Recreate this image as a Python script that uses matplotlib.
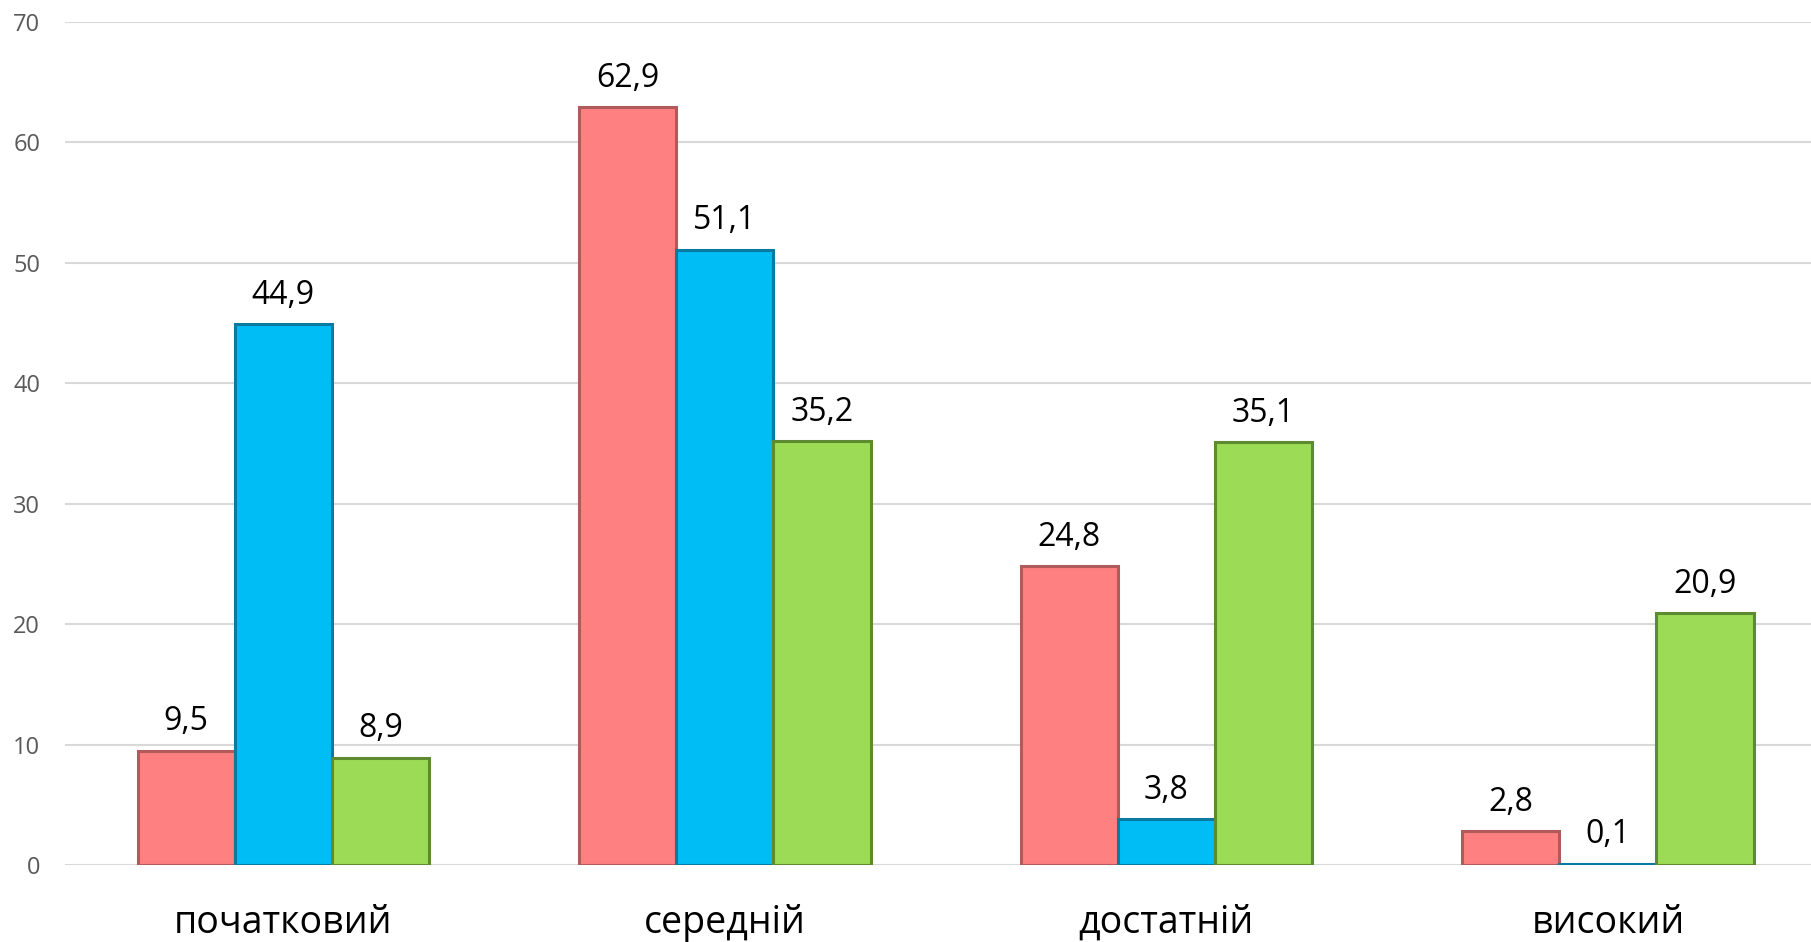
import numpy as np
import matplotlib
matplotlib.use("Agg")
import matplotlib.pyplot as plt

plt.rcParams['font.family'] = ['Open Sans', 'DejaVu Sans']

categories = ['початковий', 'середній', 'достатній', 'високий']
series_red = [9.5, 62.9, 24.8, 2.8]
series_blue = [44.9, 51.1, 3.8, 0.1]
series_green = [8.9, 35.2, 35.1, 20.9]
yticks = [0, 10, 20, 30, 40, 50, 60, 70]

colors = ['#FF8080', '#00BDF5', '#9BDB55']
edges = ['#B05A5C', '#0A7AA0', '#5E8A30']

fig = plt.figure(figsize=(18.11, 9.42), dpi=100)
ax = fig.add_axes([0.036, 0.0817, 0.964, 0.895])

x = np.arange(len(categories))
w = 0.22
for i, (vals, c, ec) in enumerate(zip([series_red, series_blue, series_green], colors, edges)):
    pos = x + (i - 1) * w
    bars = ax.bar(pos, vals, w, color=c, edgecolor=ec, linewidth=2.2, zorder=3)
    for b, v in zip(bars, vals):
        ax.annotate(('%.1f' % v).replace('.', ','),
                    (b.get_x() + b.get_width() / 2, v),
                    xytext=(0, 9), textcoords='offset points',
                    ha='center', va='bottom', fontsize=23, color='black')

ax.set_xlim(-0.494, 3.46)
ax.set_ylim(0, 70)
ax.set_yticks(yticks)
ax.set_yticklabels([str(t) for t in yticks], fontsize=17, color='#595959')
ax.set_xticks(x)
ax.set_xticklabels(categories, fontsize=27, color='black')
ax.tick_params(axis='y', length=0, pad=18)
ax.tick_params(axis='x', length=0, pad=28)
ax.grid(axis='y', color='#D9D9D9', linewidth=1.5, zorder=0)
for s in ax.spines.values():
    s.set_visible(False)

fig.savefig('out.png', dpi=100)
